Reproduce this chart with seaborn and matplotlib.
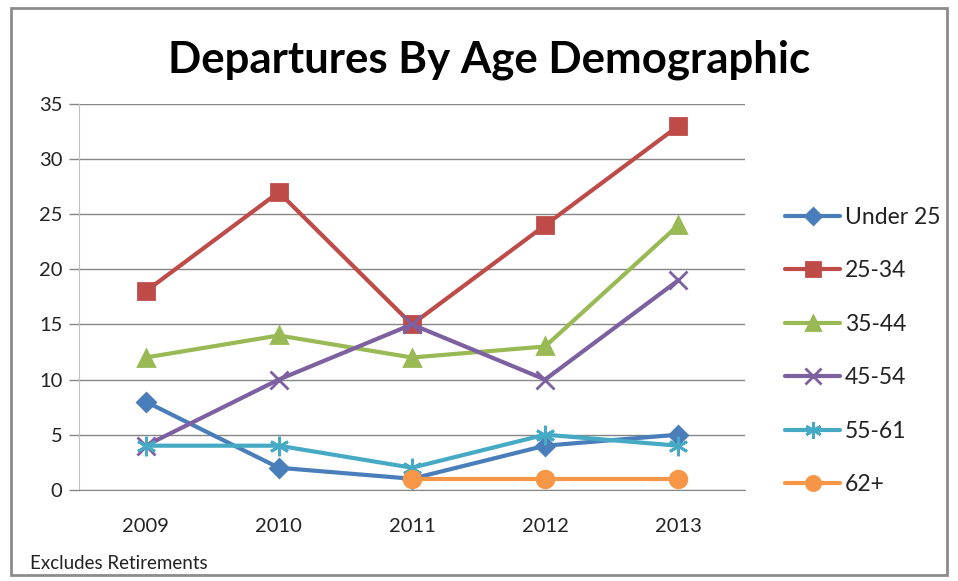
import numpy as np
import pandas as pd
import matplotlib.pyplot as plt
import seaborn as sns
from matplotlib.patches import Rectangle

# ==================================================
# DATA
# ==================================================

years = [2009, 2010, 2011, 2012, 2013]
groups = ["Under 25", "25-34", "35-44", "45-54", "55-61", "62+"]

under_25 = [8, 2, 1, 4, 5]
age_25_34 = [18, 27, 15, 24, 33]
age_35_44 = [12, 14, 12, 13, 24]
age_45_54 = [4, 10, 15, 10, 19]
age_55_61 = [4, 4, 2, 5, 4]
age_62_up = [np.nan, np.nan, 1, 1, 1]

values = [under_25, age_25_34, age_35_44, age_45_54, age_55_61, age_62_up]

df = pd.DataFrame({
    "year": years * len(groups),
    "group": [g for g in groups for _ in years],
    "count": [v for series in values for v in series],
})

# ==================================================
# STYLE
# ==================================================

sns.set_style("white")
plt.rcParams['font.family'] = ['Lato', 'DejaVu Sans']

colors = ["#4A7EBB", "#BE4B48", "#98B954", "#7D60A0", "#46AAC5", "#F79646"]
markers = ["D", "s", "^", "x", (6, 2, 0), "o"]
sizes = [9, 12, 12, 13, 14, 12]

fig = plt.figure(figsize=(9.58, 5.81), dpi=100)
ax = fig.add_axes([0.0825, 0.157, 0.695, 0.664])

# ==================================================
# LINES
# ==================================================

for g, c, m, s in zip(groups, colors, markers, sizes):
    sub = df[df["group"] == g].dropna()
    sns.lineplot(data=sub, x="year", y="count", ax=ax, color=c, marker=m,
                 markersize=s, linewidth=3, markeredgecolor=c,
                 markeredgewidth=2, label=g)

# ==================================================
# AXES
# ==================================================

ax.set_xlim(2008.5, 2013.5)
ax.set_ylim(0, 35)
ax.set_yticks(range(0, 36, 5))
ax.set_xticks(years)
ax.set_xticks([y + 0.5 for y in [2008] + years], minor=True)
ax.tick_params(axis="x", which="major", length=0, pad=20, labelsize=14.5, colors="#222222")
ax.tick_params(axis="x", which="minor", length=7, width=1, color="#868686", direction="out")
ax.tick_params(axis="y", length=7, width=1, color="#868686", direction="out", pad=5,
               labelsize=14.5, labelcolor="#222222", left=True)
ax.yaxis.grid(True, color="#868686", linewidth=1)
ax.set_axisbelow(True)
ax.set_xlabel("")
ax.set_ylabel("")
for side in ["top", "right"]:
    ax.spines[side].set_visible(False)
ax.spines["left"].set_color("#BFBFBF")
ax.spines["bottom"].set_color("#868686")

ax.legend(loc="center left", bbox_to_anchor=(1.03, 0.36), frameon=False,
          fontsize=16.5, labelspacing=1.42, handlelength=2.4, handletextpad=0.2,
          markerscale=0.85, labelcolor="#222222")

fig.text(0.511, 0.897, "Departures By Age Demographic", ha="center", va="center",
         fontsize=31.5, fontweight="bold", color="black")
fig.text(0.031, 0.03, "Excludes Retirements", ha="left", va="center",
         fontsize=13.5, color="#222222")

fig.add_artist(Rectangle((0.011, 0.01), 0.978, 0.976, transform=fig.transFigure,
                         fill=False, edgecolor="#8C8C8C", linewidth=2))

plt.savefig("out.png", dpi=100)
